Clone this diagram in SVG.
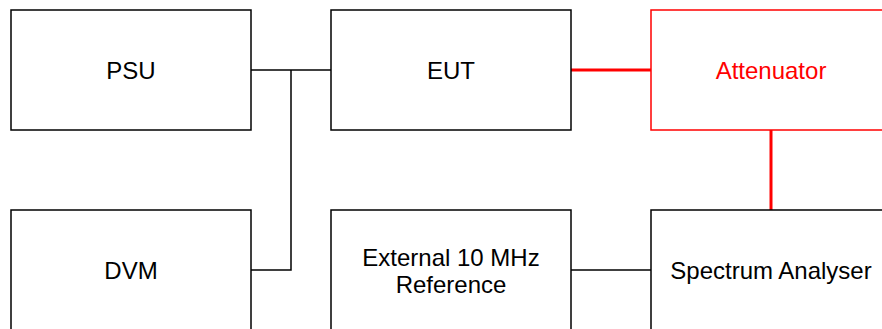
<svg xmlns="http://www.w3.org/2000/svg" width="882" height="329" viewBox="0 0 882 329">
  <style>
    .box { fill: #ffffff; stroke: #000000; stroke-width: 1.5; }
    .box-red { fill: #ffffff; stroke: #ff0000; stroke-width: 1.5; }
    .lbl { font-family: "Liberation Sans", Arial, Helvetica, sans-serif; font-size: 24px; fill: #000000; text-anchor: middle; }
    .lbl-red { fill: #ff0000; }
    .wire { fill: none; stroke: #000000; stroke-width: 1.5; }
    .wire-red { fill: none; stroke: #ff0000; stroke-width: 3; }
  </style>
  <rect width="882" height="329" fill="#ffffff"/>
  <g id="connectors">
    <path class="wire" d="M251,70 L331,70"/>
    <path class="wire" d="M291,70 L291,270 L251,270"/>
    <path class="wire" d="M571,270 L651,270"/>
    <path class="wire-red" d="M571,70 L651,70"/>
    <path class="wire-red" d="M771,130 L771,210"/>
  </g>
  <g id="psu">
    <rect class="box" x="11" y="10" width="240" height="120"/>
    <text class="lbl" x="131" y="79">PSU</text>
  </g>
  <g id="eut">
    <rect class="box" x="331" y="10" width="240" height="120"/>
    <text class="lbl" x="451" y="79">EUT</text>
  </g>
  <g id="attenuator">
    <rect class="box-red" x="651" y="10" width="240" height="120"/>
    <text class="lbl lbl-red" x="771" y="79">Attenuator</text>
  </g>
  <g id="dvm">
    <rect class="box" x="11" y="210" width="240" height="120"/>
    <text class="lbl" x="131" y="279">DVM</text>
  </g>
  <g id="ext-ref">
    <rect class="box" x="331" y="210" width="240" height="120"/>
    <text class="lbl" x="451" y="266">External 10 MHz</text>
    <text class="lbl" x="451" y="293">Reference</text>
  </g>
  <g id="spectrum-analyser">
    <rect class="box" x="651" y="210" width="240" height="120"/>
    <text class="lbl" x="771" y="279">Spectrum Analyser</text>
  </g>
</svg>
